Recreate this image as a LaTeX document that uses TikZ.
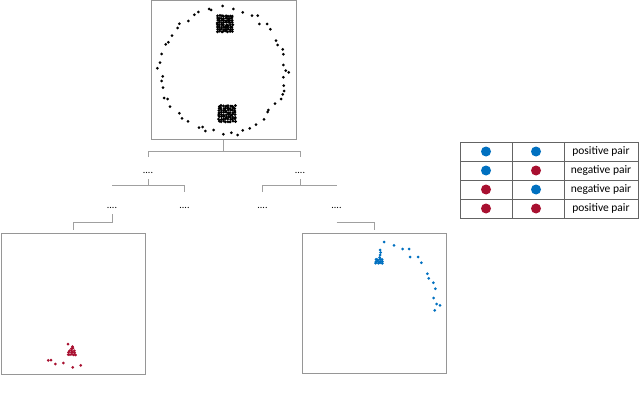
\documentclass[tikz,border=0pt]{standalone}
\usepackage{fontspec}
\setmainfont{Carlito}
\usetikzlibrary{calc}

\definecolor{pairblue}{RGB}{0,112,192}
\definecolor{pairred}{RGB}{168,16,48}
\definecolor{framegray}{RGB}{150,150,150}
\definecolor{treegray}{RGB}{160,160,160}
\definecolor{gridgray}{RGB}{100,100,100}

\begin{document}
\begin{tikzpicture}[x=1pt,y=-1pt,
  panel/.style={draw=framegray,line width=1pt,inner sep=0pt},
  tree/.style={draw=treegray,line width=0.9pt},
  dotsnode/.style={inner sep=0pt,font=\fontsize{10}{10}\selectfont},
  grid/.style={draw=gridgray,line width=0.8pt},
  pairtext/.style={inner sep=0pt,font=\fontsize{11.5}{12}\selectfont}]
  \useasboundingbox (0,0) rectangle (640,396);

  % panels
  \node[panel,minimum width=145pt,minimum height=138pt] (top) at (223.5,70) {};
  \node[panel,minimum width=144pt,minimum height=141pt] (left) at (73,303.5) {};
  \node[panel,minimum width=144pt,minimum height=140pt] (right) at (374,303) {};

  % tree of dots
  \node[dotsnode] (d1) at (148,173) {....};
  \node[dotsnode] (d2) at (300,173) {....};
  \node[dotsnode] (d3) at (112,208) {....};
  \node[dotsnode] (d4) at (184.5,208) {....};
  \node[dotsnode] (d5) at (262.5,208) {....};
  \node[dotsnode] (d6) at (336.5,208) {....};

  \draw[tree] (top.south) -- ++(0,12);
  \draw[tree] ($(d1)+(0,-16)$) |- ($(top.south)+(0,12)$) -| ($(d2)+(0,-16)$);
  \draw[tree] ($(d1)+(0,6)$) |- ($(d3)+(0,-23)$);
  \draw[tree] ($(d1)+(0,12)$) -| ($(d4)+(0,-16)$);
  \draw[tree] ($(d2)+(0,6)$) |- ($(d6)+(0,-23)$);
  \draw[tree] ($(d2)+(0,12)$) -| ($(d5)+(0,-16)$);
  \draw[tree] ($(d3)+(0,6)$) -- ++(0,8) -| ($(left.north)+(0,-3)$);
  \draw[tree] ($(d6)+(0,14)$) -| ($(right.north)+(0,-3)$);

  % ring of points
  \foreach \x/\y in {209/9,211/10,222.7/6,233.3/9,242.7/12.3,252/15.7,257.7/15.7,
      259.3/24,267/24,270.3/29.3,276/40.7,277.7/45,282.7/49.3,283.3/54.3,
      283.3/65,285.7/70.7,288.7/72.3,283.3/77.3,283.7/85.7,284/91,282.7/94.3,
      281/99,275/103.7,268.3/110,267.7/112,264/119.3,256/124.7,249.7/128.3,
      242.7/130.3,237.7/135,231.3/132.7,223.3/134.3,213.7/130,205.3/131,
      202.7/127,199/127.7,188/121.3,182/118.3,179.3/113.3,170/106.7,167.7/99,
      164/98,163/87.7,161.7/81,162.7/76.3,157.3/68.3,160/62.7,161.7/54,
      165.7/44.3,168.3/42.3,172/35.7,177.7/28,179.3/23.7,188.3/21,194.3/14.7,
      198.3/12}
    \fill (\x,\y) circle (1.5);
  \pgfmathsetseed{7}
  \foreach \i in {0,...,7}
    \foreach \j in {0,...,7} {
      \fill (217.5+2.1*\i+0.5*rand,16+2.2*\j+0.5*rand) circle (1.6);
      \fill (219+2.3*\i+0.5*rand,106+2.2*\j+0.5*rand) circle (1.6);
    }

  % red points
  \foreach \x/\y in {48.3/360.3,51/360,55.3/364,63.3/363,72.7/367.3,80.7/365.3,68/344}
    \fill[pairred] (\x,\y) circle (1.5);
  \foreach \i in {0,...,4}
    \foreach \j in {0,...,\i}
      \fill[pairred] (72+2*\j-\i+0.5*rand,346.5+2*\i+0.5*rand) circle (1.5);

  % blue points
  \foreach \x/\y in {384/242,394/245.3,402.7/249,409/249,410/257,418/257,421.3/262.7,
      427.3/273.7,428.7/278.3,433.3/282.7,435.3/288.7,433.7/298,436.7/304,440/305.3,
      434.7/310.3,380/250,380.5/252.5,380/255,379.5/257.5}
    \fill[pairblue] (\x,\y) circle (1.5);
  \foreach \i in {0,...,3}
    \foreach \j in {0,...,2}
      \fill[pairblue] (376+2*\i+0.4*rand,259.5+1.8*\j+0.4*rand) circle (1.6);

  % legend table
  \draw[grid] (460,142) rectangle (638,218);
  \foreach \y in {161,180,199}
    \draw[grid] (460,\y) -- (638,\y);
  \foreach \x in {512,564}
    \draw[grid] (\x,142) -- (\x,218);
  \foreach \row/\ca/\cb/\lab in {1/pairblue/pairblue/positive pair,
      2/pairblue/pairred/negative pair,3/pairred/pairblue/negative pair,
      4/pairred/pairred/positive pair} {
    \fill[\ca] (486,132.5+19*\row) circle (5);
    \fill[\cb] (536,132.5+19*\row) circle (5);
    \node[pairtext] (lab\row) at (601,132.5+19*\row) {\lab};
  }
\end{tikzpicture}
\end{document}
